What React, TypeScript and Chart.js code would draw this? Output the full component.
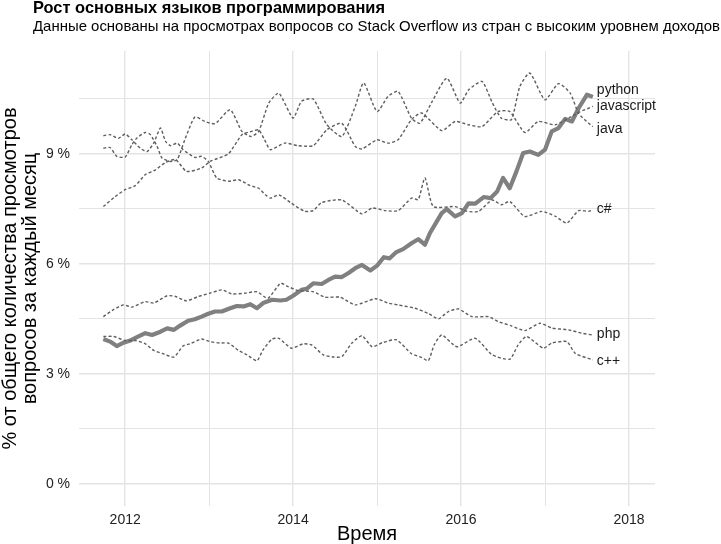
import React, { useEffect, useRef } from "react";
import { Chart, registerables } from "chart.js";

Chart.register(...registerables);

const TITLE = "Рост основных языков программирования";
const SUBTITLE =
  "Данные основаны на просмотрах вопросов со Stack Overflow из стран с высоким уровнем доходов";
const X_TITLE = "Время";
const Y_TITLE = ["% от общего количества просмотров", "вопросов за каждый месяц"];

const yearTicks = [2012, 2013, 2014, 2015, 2016, 2017, 2018];
const shareTicks = [0, 1.5, 3, 4.5, 6, 7.5, 9, 10.5];

const pythonDates = [
  2011.74, 2011.82, 2011.9, 2011.98, 2012.06, 2012.14, 2012.24, 2012.32, 2012.42, 2012.5,
  2012.58, 2012.65, 2012.75, 2012.83, 2012.91, 2012.99, 2013.07, 2013.15, 2013.25, 2013.33,
  2013.41, 2013.49, 2013.57, 2013.65, 2013.75, 2013.85, 2013.92, 2014.0, 2014.1, 2014.16,
  2014.24, 2014.34, 2014.42, 2014.5, 2014.58, 2014.66, 2014.74, 2014.82, 2014.92, 2015.0,
  2015.08, 2015.15, 2015.23, 2015.31, 2015.41, 2015.49, 2015.57, 2015.63, 2015.71, 2015.77,
  2015.83, 2015.93, 2016.01, 2016.09, 2016.17, 2016.27, 2016.35, 2016.43, 2016.5, 2016.58,
  2016.66, 2016.74, 2016.82, 2016.92, 2017.0, 2017.08, 2017.16, 2017.24, 2017.32, 2017.4,
  2017.5, 2017.57,
];
const pythonShare = [
  3.95, 3.88, 3.76, 3.85, 3.91, 4.0, 4.11, 4.06, 4.15, 4.24,
  4.2, 4.31, 4.45, 4.49, 4.56, 4.64, 4.7, 4.7, 4.79, 4.85,
  4.84, 4.9, 4.79, 4.94, 5.02, 5.0, 5.02, 5.13, 5.29, 5.32,
  5.47, 5.45, 5.56, 5.65, 5.64, 5.75, 5.88, 5.97, 5.82, 5.95,
  6.18, 6.15, 6.32, 6.4, 6.56, 6.67, 6.52, 6.84, 7.15, 7.38,
  7.49, 7.29, 7.38, 7.65, 7.64, 7.82, 7.79, 7.97, 8.34, 8.06,
  8.52, 9.02, 9.06, 8.97, 9.11, 9.61, 9.7, 9.95, 9.88, 10.24,
  10.61, 10.55,
];

const javascriptDates = [
  2011.74, 2011.88, 2012.0, 2012.12, 2012.24, 2012.36, 2012.48, 2012.6, 2012.73, 2012.91,
  2013.01, 2013.23, 2013.39, 2013.49, 2013.59, 2013.66, 2013.73, 2013.9, 2014.06, 2014.24,
  2014.4, 2014.58, 2014.74, 2014.82, 2015.0, 2015.13, 2015.25, 2015.41, 2015.53, 2015.77,
  2015.93, 2016.09, 2016.25, 2016.44, 2016.58, 2016.76, 2016.92, 2017.12, 2017.32, 2017.42,
  2017.52, 2017.57,
];
const javascriptShare = [
  7.56, 7.83, 8.02, 8.13, 8.43, 8.56, 8.76, 8.84, 8.52, 8.61,
  8.79, 9.0, 9.52, 9.6, 9.65, 9.38, 9.11, 9.29, 9.22, 9.22,
  9.65, 9.83, 9.2, 9.13, 9.38, 9.29, 9.38, 9.93, 10.11, 9.63,
  9.88, 9.79, 9.74, 10.15, 10.15, 9.58, 9.88, 9.79, 10.02, 10.15,
  10.24, 10.29,
];

const javaDates = [
  2011.74, 2011.82, 2011.9, 2012.0, 2012.08, 2012.14, 2012.24, 2012.3, 2012.38, 2012.44,
  2012.54, 2012.62, 2012.71, 2012.83, 2012.95, 2013.07, 2013.25, 2013.39, 2013.5, 2013.59,
  2013.71, 2013.83, 2014.0, 2014.1, 2014.24, 2014.4, 2014.58, 2014.74, 2014.84, 2015.0,
  2015.13, 2015.25, 2015.41, 2015.51, 2015.65, 2015.83, 2015.99, 2016.09, 2016.25, 2016.37,
  2016.48, 2016.6, 2016.7, 2016.82, 2017.0, 2017.16, 2017.3, 2017.4, 2017.52, 2017.57,
];
const javaShare = [
  9.15, 9.17, 8.93, 8.91, 9.25, 9.43, 9.58, 9.52, 9.2, 8.88,
  8.79, 8.84, 9.38, 10.0, 9.88, 9.82, 10.2, 9.61, 9.47, 9.61,
  10.38, 10.65, 9.97, 10.43, 10.49, 9.8, 9.47, 10.29, 10.93, 10.15,
  10.56, 10.7, 9.97, 9.83, 10.4, 11.06, 10.38, 10.74, 10.97, 10.4,
  9.97, 9.93, 10.83, 11.2, 10.47, 10.91, 10.65, 10.1, 9.83, 9.74,
];

const csharpDates = [
  2011.74, 2011.82, 2011.92, 2012.0, 2012.08, 2012.18, 2012.26, 2012.34, 2012.42, 2012.48,
  2012.54, 2012.62, 2012.69, 2012.83, 2012.91, 2012.99, 2013.09, 2013.23, 2013.35, 2013.49,
  2013.59, 2013.67, 2013.73, 2013.83, 2013.98, 2014.14, 2014.24, 2014.34, 2014.58, 2014.82,
  2014.94, 2015.1, 2015.25, 2015.41, 2015.49, 2015.57, 2015.67, 2015.93, 2016.07, 2016.21,
  2016.37, 2016.48, 2016.58, 2016.76, 2016.96, 2017.12, 2017.26, 2017.4, 2017.52, 2017.57,
];
const csharpShare = [
  9.49, 9.52, 9.42, 9.54, 9.38, 9.15, 9.06, 9.29, 9.7, 9.34,
  9.22, 9.29, 9.11, 8.9, 8.93, 8.79, 8.34, 8.25, 8.29, 8.13,
  8.06, 7.88, 7.79, 7.88, 7.65, 7.43, 7.45, 7.67, 7.74, 7.36,
  7.52, 7.45, 7.45, 7.79, 7.75, 8.34, 7.56, 7.56, 7.43, 7.43,
  7.74, 7.61, 7.7, 7.29, 7.43, 7.3, 7.11, 7.45, 7.43, 7.47,
];

const phpDates = [
  2011.74, 2011.86, 2011.98, 2012.08, 2012.24, 2012.34, 2012.5, 2012.6, 2012.73, 2012.87,
  2013.01, 2013.15, 2013.27, 2013.43, 2013.57, 2013.7, 2013.85, 2013.94, 2014.06, 2014.24,
  2014.38, 2014.56, 2014.74, 2014.98, 2015.13, 2015.25, 2015.45, 2015.61, 2015.73, 2015.85,
  2015.97, 2016.13, 2016.33, 2016.44, 2016.6, 2016.76, 2016.94, 2017.08, 2017.28, 2017.44,
  2017.57,
];
const phpShare = [
  4.56, 4.75, 4.88, 4.82, 4.97, 4.93, 5.13, 5.11, 4.99, 5.11,
  5.2, 5.29, 5.18, 5.2, 5.24, 5.06, 5.47, 5.38, 5.27, 5.24,
  5.09, 5.09, 4.88, 5.05, 4.93, 4.88, 4.79, 4.65, 4.5, 4.7,
  4.77, 4.56, 4.56, 4.43, 4.31, 4.18, 4.38, 4.25, 4.2, 4.11,
  4.06,
];

const cppDates = [
  2011.74, 2011.86, 2012.0, 2012.12, 2012.24, 2012.34, 2012.44, 2012.58, 2012.69, 2012.77,
  2012.91, 2013.01, 2013.13, 2013.23, 2013.35, 2013.45, 2013.57, 2013.64, 2013.75, 2013.83,
  2013.98, 2014.12, 2014.22, 2014.36, 2014.48, 2014.58, 2014.7, 2014.82, 2014.94, 2015.06,
  2015.23, 2015.41, 2015.53, 2015.61, 2015.68, 2015.77, 2015.95, 2016.17, 2016.37, 2016.58,
  2016.68, 2016.78, 2016.98, 2017.08, 2017.26, 2017.36, 2017.57,
];
const cppShare = [
  4.02, 4.02, 3.91, 3.91, 3.82, 3.64, 3.56, 3.46, 3.76, 3.82,
  3.95, 3.88, 3.84, 3.84, 3.64, 3.52, 3.36, 3.65, 3.95, 3.97,
  3.7, 3.82, 3.79, 3.52, 3.46, 3.47, 3.84, 4.04, 3.74, 3.85,
  3.93, 3.55, 3.45, 3.36, 3.79, 4.06, 3.74, 3.97, 3.52, 3.4,
  3.79, 4.02, 3.7, 3.84, 3.88, 3.56, 3.38,
];

const languages = ["python", "javascript", "java", "c#", "php", "c++"];
const labelShare = [10.73, 10.3, 9.66, 7.48, 4.09, 3.36];

const FONT = '"Liberation Sans", Arial, Helvetica, sans-serif';

const seriesDates = [pythonDates, javascriptDates, javaDates, csharpDates, phpDates, cppDates];
const seriesShare = [pythonShare, javascriptShare, javaShare, csharpShare, phpShare, cppShare];

export default function App() {
  const canvasRef = useRef<HTMLCanvasElement | null>(null);

  useEffect(() => {
    const canvas = canvasRef.current;
    if (!canvas) return;

    const datasets = languages
      .map((name, i) => {
        const isPython = name === "python";
        return {
          label: name,
          data: seriesDates[i].map((x, j) => ({ x, y: seriesShare[i][j] })),
          borderColor: isPython ? "#808080" : "#5e5e5e",
          borderWidth: isPython ? 4.2 : 1.4,
          borderDash: isPython ? [] : [3, 2.2],
          borderJoinStyle: "round" as const,
          pointRadius: 0,
          tension: isPython ? 0 : 0.2,
          fill: false,
        };
      })
      .reverse();

    const textPlugin = {
      id: "textPlugin",
      afterDraw(chart: any) {
        const ctx = chart.ctx as CanvasRenderingContext2D;
        ctx.save();
        ctx.textAlign = "left";
        ctx.textBaseline = "alphabetic";
        ctx.fillStyle = "#000";
        ctx.font = `bold 16.5px ${FONT}`;
        ctx.fillText(TITLE, 33, 13, 352);
        ctx.font = `15px ${FONT}`;
        ctx.fillText(SUBTITLE, 33, 31, 687);

        const xs = chart.scales.x;
        const ys = chart.scales.y;
        ctx.font = `14px ${FONT}`;
        ctx.fillStyle = "#1a1a1a";
        ctx.textBaseline = "middle";
        languages.forEach((name, i) => {
          const d = seriesDates[i];
          const px = xs.getPixelForValue(d[d.length - 1]) + 4;
          const py = ys.getPixelForValue(labelShare[i]);
          ctx.fillText(name, px, py);
        });
        ctx.restore();
      },
    };

    const chart = new Chart(canvas, {
      type: "line",
      data: { datasets },
      options: {
        animation: false,
        responsive: false,
        devicePixelRatio: 1,
        layout: { padding: { left: 0, right: 66, top: 51, bottom: 0 } },
        plugins: {
          legend: { display: false },
          tooltip: { enabled: false },
          title: { display: false },
        },
        scales: {
          x: {
            type: "linear",
            min: 2011.45,
            max: 2018.31,
            border: { display: false },
            grid: {
              color: "#e4e4e4",
              lineWidth: (c: any) => (c.tick && c.tick.value % 2 === 0 ? 1.4 : 1),
              drawTicks: false,
            },
            afterBuildTicks: (scale: any) => {
              scale.ticks = yearTicks.map((v) => ({ value: v }));
            },
            afterFit: (scale: any) => {
              scale.height = 38;
            },
            ticks: {
              autoSkip: false,
              maxRotation: 0,
              padding: 6,
              color: "#222",
              font: { family: FONT, size: 14 },
              callback: (v: any) => (Number(v) % 2 === 0 ? String(v) : ""),
            },
            title: {
              display: true,
              text: X_TITLE,
              color: "#000",
              font: { family: FONT, size: 20, lineHeight: 1.0 },
              padding: { top: 0, bottom: 0 },
            },
          },
          y: {
            type: "linear",
            min: -0.6,
            max: 11.8,
            border: { display: false },
            grid: {
              color: "#e4e4e4",
              lineWidth: (c: any) => (c.tick && c.tick.value % 3 === 0 ? 1.4 : 1),
              drawTicks: false,
            },
            afterBuildTicks: (scale: any) => {
              scale.ticks = shareTicks.map((v) => ({ value: v }));
            },
            afterFit: (scale: any) => {
              scale.width = 79;
            },
            ticks: {
              autoSkip: false,
              padding: 9,
              color: "#222",
              font: { family: FONT, size: 14 },
              callback: (v: any) => (Number(v) % 3 === 0 ? `${v} %` : ""),
            },
            title: {
              display: true,
              text: Y_TITLE,
              color: "#000",
              font: { family: FONT, size: 20, lineHeight: 1.0 },
              padding: { top: 0, bottom: 0 },
            },
          },
        },
      },
      plugins: [textPlugin],
    } as any);

    return () => chart.destroy();
  }, []);

  return (
    <div style={{ position: "fixed", left: 0, top: 0, width: 721, height: 544, background: "#fff" }}>
      <canvas ref={canvasRef} width={721} height={544} style={{ display: "block" }} />
    </div>
  );
}
